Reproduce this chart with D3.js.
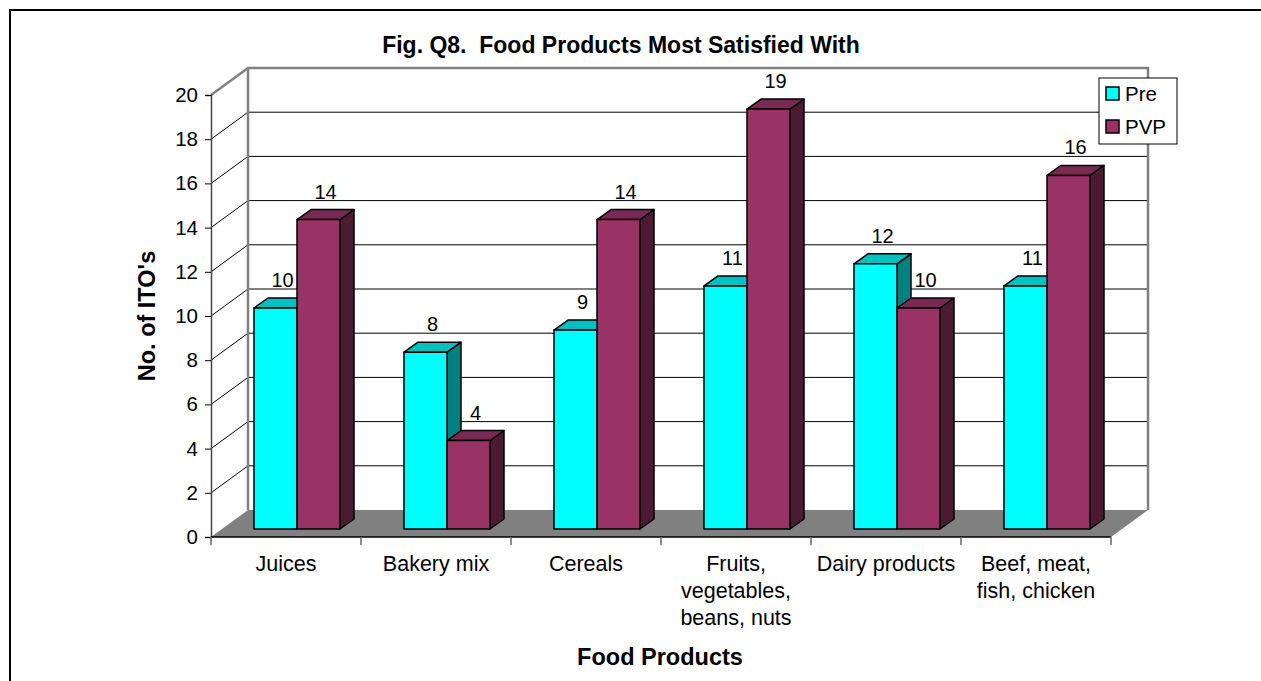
<!DOCTYPE html>
<html>
<head>
<meta charset="utf-8">
<script src="https://cdn.jsdelivr.net/npm/d3@7"></script>
<style>
  body { margin: 0; background: #fff; }
  text { font-family: Arial, "Liberation Sans", sans-serif; }
</style>
</head>
<body>
<svg width="1261" height="681"></svg>
<script>
// data
let categories = ["Juices", "Bakery mix", "Cereals", "Fruits,\nvegetables,\nbeans, nuts", "Dairy products", "Beef, meat,\nfish, chicken"];
let seriesNames = ["Pre", "PVP"];
let pre = [10, 8, 9, 11, 12, 11];
let pvp = [14, 4, 14, 19, 10, 16];
let yTicks = [0, 2, 4, 6, 8, 10, 12, 14, 16, 18, 20];

let svg = d3.select("svg");

// frame
svg.append("rect")
    .attr("x", 10).attr("y", 10)
    .attr("width", 1300).attr("height", 700)
    .attr("fill", "none").attr("stroke", "#000").attr("stroke-width", 2);

let plotLeft = 211, plotRight = 1111, plotBottom = 537, plotTop = 95;
let depthX = 37, depthY = -27;          // wall depth
let barFrontX = 11, barFrontY = -8;     // bar front face offset into depth
let barDX = 14, barDY = -10;            // bar depth

let x0 = d3.scaleBand().domain(d3.range(categories.length)).range([plotLeft, plotRight]);
let groupW = 86;
let x1 = d3.scaleBand().domain(seriesNames)
    .range([(x0.bandwidth() - groupW) / 2, (x0.bandwidth() + groupW) / 2]);
let y = d3.scaleLinear().domain([0, 20]).range([plotBottom, plotTop]);

let colors = {
  Pre: {front: "#00ffff", top: "#00c0c0", side: "#008080"},
  PVP: {front: "#993366", top: "#7a2952", side: "#4d1a33"}
};

let g = svg.append("g");

// back wall
g.append("rect")
    .attr("x", plotLeft + depthX).attr("y", y(20) + depthY)
    .attr("width", plotRight - plotLeft).attr("height", y(0) - y(20))
    .attr("fill", "#fff");
// left wall
g.append("polygon")
    .attr("points", [[plotLeft, y(20)], [plotLeft + depthX, y(20) + depthY], [plotLeft + depthX, y(0) + depthY], [plotLeft, y(0)]].join(" "))
    .attr("fill", "#fff");

// gridlines
yTicks.filter(d => d > 0 && d < 20).forEach(function(d) {
  g.append("line")
      .attr("x1", plotLeft + depthX).attr("x2", plotRight + depthX)
      .attr("y1", y(d) + depthY).attr("y2", y(d) + depthY)
      .attr("stroke", "#000").attr("stroke-width", 1);
  g.append("line")
      .attr("x1", plotLeft).attr("x2", plotLeft + depthX)
      .attr("y1", y(d)).attr("y2", y(d) + depthY)
      .attr("stroke", "#000").attr("stroke-width", 1);
});

// wall edges
g.append("path")
    .attr("d", "M" + plotLeft + "," + y(20) + "L" + (plotLeft + depthX) + "," + (y(20) + depthY) +
               "L" + (plotRight + depthX) + "," + (y(20) + depthY) + "L" + (plotRight + depthX) + "," + (y(0) + depthY))
    .attr("fill", "none").attr("stroke", "#808080").attr("stroke-width", 2.5);
g.append("line")
    .attr("x1", plotLeft + depthX).attr("x2", plotLeft + depthX)
    .attr("y1", y(20) + depthY).attr("y2", y(0) + depthY)
    .attr("stroke", "#808080").attr("stroke-width", 2.5);

// floor
g.append("polygon")
    .attr("points", [[plotLeft, y(0)], [plotRight, y(0)], [plotRight + depthX, y(0) + depthY], [plotLeft + depthX, y(0) + depthY]].join(" "))
    .attr("fill", "#808080");

// bars
let bw = x1.bandwidth();
categories.forEach(function(c, i) {
  [pre[i], pvp[i]].forEach(function(v, j) {
    let s = seriesNames[j];
    let bx = x0(i) + x1(s) + barFrontX;
    let by = y(v) + barFrontY;
    let base = y(0) + barFrontY;
    let col = colors[s];
    let bar = g.append("g").attr("stroke", "#000").attr("stroke-width", 1.5).attr("stroke-linejoin", "round");
    bar.append("polygon")
        .attr("points", [[bx + bw, by], [bx + bw + barDX, by + barDY], [bx + bw + barDX, base + barDY], [bx + bw, base]].join(" "))
        .attr("fill", col.side);
    bar.append("polygon")
        .attr("points", [[bx, by], [bx + barDX, by + barDY], [bx + bw + barDX, by + barDY], [bx + bw, by]].join(" "))
        .attr("fill", col.top);
    bar.append("rect")
        .attr("x", bx).attr("y", by).attr("width", bw).attr("height", base - by)
        .attr("fill", col.front);
    g.append("text")
        .attr("x", bx + bw / 2 + barDX / 2)
        .attr("y", by + barDY - 11)
        .attr("text-anchor", "middle")
        .attr("font-size", 20)
        .text(v);
  });
});

// y axis
let yAxis = g.append("g")
    .attr("transform", "translate(" + plotLeft + ",0)")
    .call(d3.axisLeft(y).tickValues(yTicks).tickSize(6).tickPadding(7).tickFormat(d3.format("d")));
yAxis.select(".domain").attr("stroke", "#444").attr("stroke-width", 1.5);
yAxis.selectAll(".tick line").attr("stroke", "#000");
yAxis.selectAll("text").attr("font-size", 20.5).attr("font-family", "Arial, 'Liberation Sans', sans-serif").attr("fill", "#000");

// x axis
g.append("line")
    .attr("x1", plotLeft).attr("x2", plotRight).attr("y1", y(0)).attr("y2", y(0))
    .attr("stroke", "#000").attr("stroke-width", 1.5);
x0.domain().concat([categories.length]).forEach(function(i) {
  let tx = i < categories.length ? x0(i) : plotRight;
  g.append("line")
      .attr("x1", tx).attr("x2", tx).attr("y1", y(0)).attr("y2", y(0) + 8)
      .attr("stroke", "#666").attr("stroke-width", 1.5);
});
categories.forEach(function(c, i) {
  let t = g.append("text")
      .attr("text-anchor", "middle")
      .attr("font-size", 21.5);
  c.split("\n").forEach(function(line, k) {
    t.append("tspan")
        .attr("x", x0(i) + x0.bandwidth() / 2)
        .attr("y", 571 + k * 27)
        .text(line);
  });
});

// titles
svg.append("text")
    .attr("x", 621).attr("y", 53)
    .attr("text-anchor", "middle")
    .style("white-space", "pre")
    .attr("font-size", 23).attr("font-weight", "bold")
    .text("Fig. Q8.  Food Products Most Satisfied With");
svg.append("text")
    .attr("transform", "translate(155,316) rotate(-90)")
    .attr("text-anchor", "middle")
    .attr("font-size", 23.5).attr("font-weight", "bold")
    .text("No. of ITO's");
svg.append("text")
    .attr("x", 660).attr("y", 665)
    .attr("text-anchor", "middle")
    .attr("font-size", 23.5).attr("font-weight", "bold")
    .text("Food Products");

// legend
let legend = svg.append("g").attr("transform", "translate(1099,78)");
legend.append("rect")
    .attr("width", 78).attr("height", 66)
    .attr("fill", "#fff").attr("stroke", "#000").attr("stroke-width", 1);
let items = legend.selectAll("g.item")
    .data(seriesNames)
    .enter().append("g")
    .attr("transform", function(d, i) { return "translate(7," + (9 + i * 33) + ")"; });
items.append("rect")
    .attr("width", 13).attr("height", 13)
    .attr("fill", function(d) { return colors[d].front; })
    .attr("stroke", "#000").attr("stroke-width", 1.5);
items.append("text")
    .attr("x", 19).attr("y", 14)
    .attr("font-size", 20.5)
    .text(function(d) { return d; });
</script>
</body>
</html>
